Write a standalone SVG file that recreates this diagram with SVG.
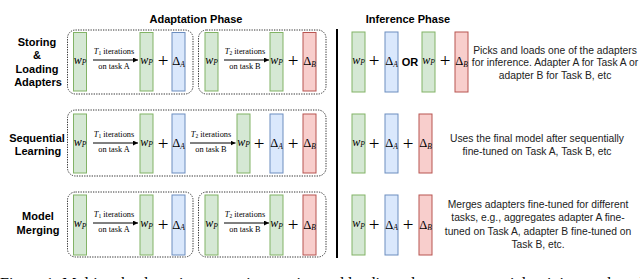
<svg xmlns="http://www.w3.org/2000/svg" width="640" height="279" viewBox="0 0 640 279">
<style>
.box{fill:none;stroke:#333;stroke-width:1;stroke-dasharray:1.3 1.2}
.g{fill:#d5e8d4;stroke:#82b366;stroke-width:1}
.b{fill:#dae8fc;stroke:#6c8ebf;stroke-width:1}
.r{fill:#f8cecc;stroke:#b85450;stroke-width:1}
.lbl{font-family:"Liberation Sans",Arial,sans-serif;font-weight:bold;font-size:11px;text-anchor:middle;fill:#000}
.ttl{font-family:"Liberation Sans",Arial,sans-serif;font-weight:bold;font-size:11px;text-anchor:middle;fill:#000}
.desc{font-family:"Liberation Sans",Arial,sans-serif;font-size:10.3px;text-anchor:middle;fill:#222}
.m{font-family:"Liberation Serif","Times New Roman",serif;font-size:12px;text-anchor:middle;fill:#000}
.d{font-size:12.5px}
.pl{font-family:"Liberation Serif","Times New Roman",serif;font-size:19px;text-anchor:middle;fill:#000}
.sm{font-family:"Liberation Serif","Times New Roman",serif;font-size:8.3px;text-anchor:middle;fill:#000}
.it{font-style:italic}
.sub{font-style:italic;font-size:7.5px}
.arr{stroke:#000;stroke-width:1;fill:none;marker-end:url(#ah)}
.cap{font-family:"Liberation Serif","Times New Roman",serif;font-size:16px;fill:#000}
</style>
<defs>
<marker id="ah" viewBox="0 0 6 6" refX="6" refY="3" markerWidth="5" markerHeight="5" orient="auto" markerUnits="userSpaceOnUse">
<path d="M0,0 L6,3 L0,6 z" fill="#000"/>
</marker>
</defs>

<g id="titles">
<text class="ttl" x="196" y="23">Adaptation Phase</text>
<text class="ttl" x="408" y="23">Inference Phase</text>
</g>

<g id="row-labels">
<text class="lbl" x="37" y="46">Storing</text>
<text class="lbl" x="37" y="59">&amp;</text>
<text class="lbl" x="37" y="73">Loading</text>
<text class="lbl" x="38" y="86">Adapters</text>
<text class="lbl" x="37" y="141.5">Sequential</text>
<text class="lbl" x="38" y="155">Learning</text>
<text class="lbl" x="38" y="220">Model</text>
<text class="lbl" x="38" y="233.5">Merging</text>
</g>

<line id="divider" x1="337" y1="29" x2="337" y2="258" stroke="#000" stroke-width="2"/>

<!-- Row 1 -->
<g id="r1-boxA"><rect class="box" x="67.5" y="30" width="125.5" height="64" rx="8"/></g>
<g id="r1-boxB"><rect class="box" x="198.5" y="30" width="127.5" height="64" rx="8"/></g>
<g id="r1-wp1"><rect class="g" x="73.5" y="32.5" width="13" height="58.5"/><text class="m" x="80" y="63.5"><tspan class="it">w</tspan><tspan class="sub" dy="1.5">P</tspan></text></g>
<g id="r1-wp2"><rect class="g" x="140" y="32.5" width="13" height="58.5"/><text class="m" x="146.5" y="63.5"><tspan class="it">w</tspan><tspan class="sub" dy="1.5">P</tspan></text></g>
<text class="pl" x="163" y="67">+</text>
<g id="r1-dA"><rect class="b" x="172" y="32.5" width="13" height="58.5"/><text class="m d" x="178.5" y="65">Δ<tspan class="sub" dy="1.5">A</tspan></text></g>
<g id="r1-wp3"><rect class="g" x="205" y="32.5" width="13" height="58.5"/><text class="m" x="211.5" y="63.5"><tspan class="it">w</tspan><tspan class="sub" dy="1.5">P</tspan></text></g>
<g id="r1-wp4"><rect class="g" x="270" y="32.5" width="13" height="58.5"/><text class="m" x="276.5" y="63.5"><tspan class="it">w</tspan><tspan class="sub" dy="1.5">P</tspan></text></g>
<text class="pl" x="293" y="67">+</text>
<g id="r1-dB"><rect class="r" x="303" y="32.5" width="13" height="58.5"/><text class="m d" x="309.5" y="65">Δ<tspan class="sub" dy="1.5">B</tspan></text></g>

<!-- Row 2 -->
<g id="r2-box"><rect class="box" x="67.5" y="110" width="258.5" height="66" rx="8"/></g>
<g id="r2-wp1"><rect class="g" x="73.5" y="114" width="13" height="59"/><text class="m" x="80" y="145.5"><tspan class="it">w</tspan><tspan class="sub" dy="1.5">P</tspan></text></g>
<g id="r2-wp2"><rect class="g" x="140" y="114" width="13" height="59"/><text class="m" x="146.5" y="145.5"><tspan class="it">w</tspan><tspan class="sub" dy="1.5">P</tspan></text></g>
<text class="pl" x="163" y="149.5">+</text>
<g id="r2-dA1"><rect class="b" x="172" y="114" width="13" height="59"/><text class="m d" x="178.5" y="147">Δ<tspan class="sub" dy="1.5">A</tspan></text></g>
<g id="r2-wp3"><rect class="g" x="237" y="114" width="13" height="59"/><text class="m" x="243.5" y="145.5"><tspan class="it">w</tspan><tspan class="sub" dy="1.5">P</tspan></text></g>
<text class="pl" x="259" y="149.5">+</text>
<g id="r2-dA2"><rect class="b" x="270" y="114" width="13" height="59"/><text class="m d" x="276.5" y="147">Δ<tspan class="sub" dy="1.5">A</tspan></text></g>
<text class="pl" x="293" y="149.5">+</text>
<g id="r2-dB"><rect class="r" x="303" y="114" width="13" height="59"/><text class="m d" x="309.5" y="147">Δ<tspan class="sub" dy="1.5">B</tspan></text></g>

<!-- Row 3 -->
<g id="r3-boxA"><rect class="box" x="67.5" y="192" width="125.5" height="65" rx="8"/></g>
<g id="r3-boxB"><rect class="box" x="198.5" y="192" width="127.5" height="65" rx="8"/></g>
<g id="r3-wp1"><rect class="g" x="73.5" y="195" width="13" height="60"/><text class="m" x="80" y="227"><tspan class="it">w</tspan><tspan class="sub" dy="1.5">P</tspan></text></g>
<g id="r3-wp2"><rect class="g" x="140" y="195" width="13" height="60"/><text class="m" x="146.5" y="227"><tspan class="it">w</tspan><tspan class="sub" dy="1.5">P</tspan></text></g>
<text class="pl" x="163" y="231">+</text>
<g id="r3-dA"><rect class="b" x="172" y="195" width="13" height="60"/><text class="m d" x="178.5" y="228.5">Δ<tspan class="sub" dy="1.5">A</tspan></text></g>
<g id="r3-wp3"><rect class="g" x="205" y="195" width="13" height="60"/><text class="m" x="211.5" y="227"><tspan class="it">w</tspan><tspan class="sub" dy="1.5">P</tspan></text></g>
<g id="r3-wp4"><rect class="g" x="270" y="195" width="13" height="60"/><text class="m" x="276.5" y="227"><tspan class="it">w</tspan><tspan class="sub" dy="1.5">P</tspan></text></g>
<text class="pl" x="293" y="231">+</text>
<g id="r3-dB"><rect class="r" x="303" y="195" width="13" height="60"/><text class="m d" x="309.5" y="228.5">Δ<tspan class="sub" dy="1.5">B</tspan></text></g>

<!-- Connectors -->
<g id="connectors">
<line class="arr" x1="93" y1="60" x2="138" y2="60"/>
<line class="arr" x1="224" y1="60" x2="269" y2="60"/>
<line class="arr" x1="93" y1="143" x2="138" y2="143"/>
<line class="arr" x1="190" y1="143" x2="235.5" y2="143"/>
<line class="arr" x1="93" y1="223" x2="138" y2="223"/>
<line class="arr" x1="224" y1="223" x2="269" y2="223"/>
</g>
<g id="connector-labels">
<text class="sm" x="114" y="54"><tspan class="it">T</tspan><tspan font-size="5.5" dy="1">1</tspan><tspan dy="-1"> iterations</tspan></text>
<text class="sm" x="114" y="68.5">on task A</text>
<text class="sm" x="245" y="54"><tspan class="it">T</tspan><tspan font-size="5.5" dy="1">2</tspan><tspan dy="-1"> iterations</tspan></text>
<text class="sm" x="245" y="68.5">on task B</text>
<text class="sm" x="114" y="137"><tspan class="it">T</tspan><tspan font-size="5.5" dy="1">1</tspan><tspan dy="-1"> iterations</tspan></text>
<text class="sm" x="114" y="151.5">on task A</text>
<text class="sm" x="211" y="137"><tspan class="it">T</tspan><tspan font-size="5.5" dy="1">2</tspan><tspan dy="-1"> iterations</tspan></text>
<text class="sm" x="211" y="151.5">on task B</text>
<text class="sm" x="114" y="217"><tspan class="it">T</tspan><tspan font-size="5.5" dy="1">1</tspan><tspan dy="-1"> iterations</tspan></text>
<text class="sm" x="114" y="231.5">on task A</text>
<text class="sm" x="245" y="217"><tspan class="it">T</tspan><tspan font-size="5.5" dy="1">2</tspan><tspan dy="-1"> iterations</tspan></text>
<text class="sm" x="245" y="231.5">on task B</text>
</g>

<!-- Inference row 1 -->
<g id="i1-wp1"><rect class="g" x="352" y="32" width="13" height="60"/><text class="m" x="358.5" y="63.5"><tspan class="it">w</tspan><tspan class="sub" dy="1.5">P</tspan></text></g>
<text class="pl" x="374" y="67">+</text>
<g id="i1-dA"><rect class="b" x="385" y="32" width="13" height="60"/><text class="m d" x="391.5" y="65">Δ<tspan class="sub" dy="1.5">A</tspan></text></g>
<text class="lbl" x="410" y="66">OR</text>
<g id="i1-wp2"><rect class="g" x="422" y="32" width="13" height="60"/><text class="m" x="428.5" y="63.5"><tspan class="it">w</tspan><tspan class="sub" dy="1.5">P</tspan></text></g>
<text class="pl" x="445" y="67">+</text>
<g id="i1-dB"><rect class="r" x="455" y="32" width="13" height="60"/><text class="m d" x="461.5" y="65">Δ<tspan class="sub" dy="1.5">B</tspan></text></g>
<g id="i1-desc">
<text class="desc" x="555" y="53.5">Picks and loads one of the adapters</text>
<text class="desc" x="555" y="66">for inference. Adapter A for Task A or</text>
<text class="desc" x="555" y="78.5">adapter B for Task B, etc</text>
</g>

<!-- Inference row 2 -->
<g id="i2-wp"><rect class="g" x="352" y="114" width="13" height="59"/><text class="m" x="358.5" y="145.5"><tspan class="it">w</tspan><tspan class="sub" dy="1.5">P</tspan></text></g>
<text class="pl" x="374" y="149.5">+</text>
<g id="i2-dA"><rect class="b" x="385" y="114" width="13" height="59"/><text class="m d" x="391.5" y="147">Δ<tspan class="sub" dy="1.5">A</tspan></text></g>
<text class="pl" x="408" y="149.5">+</text>
<g id="i2-dB"><rect class="r" x="419" y="114" width="13" height="59"/><text class="m d" x="425.5" y="147">Δ<tspan class="sub" dy="1.5">B</tspan></text></g>
<g id="i2-desc">
<text class="desc" x="537" y="141.5">Uses the final model after sequentially</text>
<text class="desc" x="537" y="154.5">fine-tuned on Task A, Task B, etc</text>
</g>

<!-- Inference row 3 -->
<g id="i3-wp"><rect class="g" x="352" y="195" width="13" height="60"/><text class="m" x="358.5" y="227"><tspan class="it">w</tspan><tspan class="sub" dy="1.5">P</tspan></text></g>
<text class="pl" x="374" y="231">+</text>
<g id="i3-dA"><rect class="b" x="385" y="195" width="13" height="60"/><text class="m d" x="391.5" y="228.5">Δ<tspan class="sub" dy="1.5">A</tspan></text></g>
<text class="pl" x="408" y="231">+</text>
<g id="i3-dB"><rect class="r" x="419" y="195" width="13" height="60"/><text class="m d" x="425.5" y="228.5">Δ<tspan class="sub" dy="1.5">B</tspan></text></g>
<g id="i3-desc">
<text class="desc" x="538" y="207.5">Merges adapters fine-tuned for different</text>
<text class="desc" x="538" y="221">tasks, e.g., aggregates adapter A fine-</text>
<text class="desc" x="538" y="234.5">tuned on Task A, adapter B fine-tuned on</text>
<text class="desc" x="538" y="248">Task B, etc.</text>
</g>

<text class="cap" x="0" y="289">Figure 1: Multi-task adaptation strategies: storing and loading adapters, sequential training, and model merging.</text>
</svg>
